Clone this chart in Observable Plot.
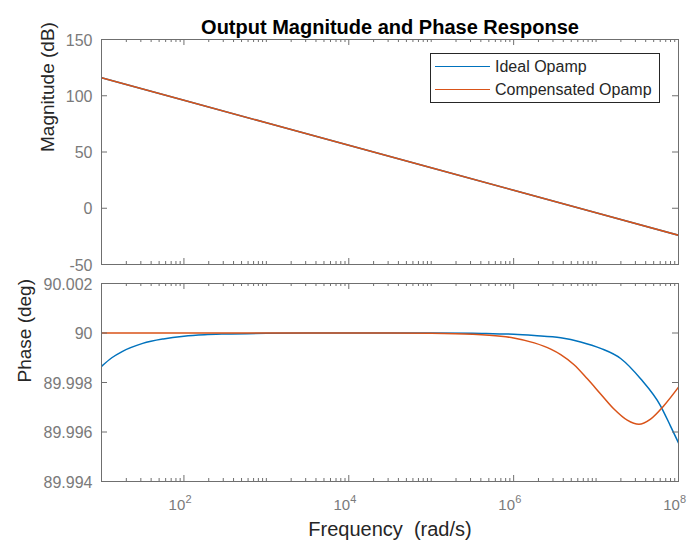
<!DOCTYPE html>
<html><head><meta charset="utf-8">
<script src="https://cdn.jsdelivr.net/npm/d3@7"></script>
<script src="https://cdn.jsdelivr.net/npm/@observablehq/plot@0.6"></script>
<style>
html,body{margin:0;padding:0;background:#fff;}
#wrap{position:relative;width:693px;height:548px;overflow:hidden;font-family:"Liberation Sans",Arial,sans-serif;}
#top,#bottom{position:absolute;left:0;}
#top{top:0}
#bottom{top:274px}
#legend{position:absolute;left:430px;top:53px;width:228px;height:48px;border:1px solid #262626;background:#fff;}
.sw{position:absolute;left:4px;width:55px;height:0;border-top:1.5px solid;}
.lab{position:absolute;left:64px;font-size:16px;color:#262626;line-height:16px;white-space:nowrap}
</style></head>
<body><div id="wrap"><div id="top"></div><div id="bottom"></div><div id="legend"></div></div>
<script>
// ---------- data ----------
const seriesNames = ["Ideal Opamp", "Compensated Opamp"];
const seriesColors = ["#0072BD", "#D95319"];

// Magnitude (dB) at each decade 10^1 .. 10^8
const magFreq = [1e1, 1e2, 1e3, 1e4, 1e5, 1e6, 1e7, 1e8];
const magIdeal = [116, 96, 76, 56, 36, 16, -4, -24];
const magComp = [116, 96, 76, 56, 36, 16, -4, -24];

// Phase (deg), frequency given as log10(rad/s)
const idealExp = [1.0, 1.125, 1.25, 1.5, 1.75, 2.0, 2.25, 2.5, 3.0, 3.5, 4.0, 5.0, 5.5, 5.75, 6.0, 6.25, 6.571, 6.813, 7.055, 7.298, 7.54, 7.782, 7.903, 8.0];
const idealPhase = [89.99865, 89.99900, 89.99925, 89.99958, 89.99976, 89.99987, 89.99993, 89.99996, 89.99999, 90.0, 90.0, 90.0, 89.99999, 89.99997, 89.99995, 89.9999, 89.99981, 89.99964, 89.99938, 89.99897, 89.99815, 89.99706, 89.99624, 89.99556];
const compExp = [1.0, 4.0, 4.5, 5.0, 5.5, 5.844, 6.0, 6.25, 6.45, 6.571, 6.733, 6.894, 7.055, 7.217, 7.378, 7.52, 7.661, 7.822, 8.0];
const compPhase = [90.0, 90.0, 90.0, 89.99999, 89.99995, 89.99987, 89.9998, 89.9996, 89.99935, 89.99913, 89.99872, 89.99815, 89.99754, 89.99693, 89.99648, 89.99631, 89.99652, 89.99706, 89.99781];

// ticks
const majorTicks = [1e2, 1e4, 1e6, 1e8];
const majorTickExponents = ["2", "4", "6", "8"];
const minorMantissas = [1, 2, 3, 4, 5, 6, 7, 8, 9];
const minorDecades = [1, 2, 3, 4, 5, 6, 7];
const magTicks = [-50, 0, 50, 100, 150];
const magTickLabels = ["-50", "0", "50", "100", "150"];
const phaseTicks = [89.994, 89.996, 89.998, 90, 90.002];
const phaseTickLabels = ["89.994", "89.996", "89.998", "90", "90.002"];

const titleText = "Output Magnitude and Phase Response";
const magLabel = "Magnitude (dB)";
const phaseLabel = "Phase (deg)";
const freqLabel = "Frequency\u00a0 (rad/s)";

// ---------- build ----------
const minorTicks = [];
for (const k of minorDecades) for (const m of minorMantissas) {
  const v = m * Math.pow(10, k);
  if (!majorTicks.includes(v)) minorTicks.push(v);
}

const magData = magFreq.map((f, i) => ({f, v: magIdeal[i]}));
const magDataC = magFreq.map((f, i) => ({f, v: magComp[i]}));
const phIdeal = idealExp.map((e, i) => ({f: Math.pow(10, e), v: idealPhase[i]}));
const phComp = compExp.map((e, i) => ({f: Math.pow(10, e), v: compPhase[i]}));

const W = 693, ML = 101, MR = 15;
const PW = W - ML - MR;
const font = '"Liberation Sans", Arial, sans-serif';
const axisColor = "#6f6f6f";
const labelColor = "#7a7a7a";
const textDark = "#262626";

function frameTicks(PH, yTicks) {
  return [
    Plot.ruleX(minorTicks, {x: d => d, stroke: axisColor, insetTop: PH - 3}),
    Plot.ruleX(minorTicks, {x: d => d, stroke: axisColor, insetBottom: PH - 3}),
    Plot.ruleX(majorTicks, {x: d => d, stroke: axisColor, insetTop: PH - 6}),
    Plot.ruleX(majorTicks, {x: d => d, stroke: axisColor, insetBottom: PH - 6}),
    Plot.ruleY(yTicks, {y: d => d, stroke: axisColor, insetRight: PW - 6}),
    Plot.ruleY(yTicks, {y: d => d, stroke: axisColor, insetLeft: PW - 6}),
    Plot.frame({stroke: axisColor})
  ];
}

// Top panel
const topH = 274, topMT = 39, topMB = 10;
const topPH = topH - topMT - topMB;
const topPlot = Plot.plot({
  width: W, height: topH,
  marginLeft: ML, marginRight: MR, marginTop: topMT, marginBottom: topMB,
  x: {type: "log", domain: [10, 1e8], axis: null},
  y: {domain: [-50, 150], axis: null},
  style: {fontFamily: font, background: "white", overflow: "visible"},
  marks: [
    Plot.line(magData, {x: "f", y: "v", stroke: seriesColors[0], strokeWidth: 1.5, clip: true}),
    Plot.line(magDataC, {x: "f", y: "v", stroke: seriesColors[1], strokeWidth: 1.5, clip: true}),
    ...frameTicks(topPH, magTicks),
    Plot.text(magTicks, {y: d => d, text: magTickLabels, frameAnchor: "left", textAnchor: "end", dx: -9, dy: 1, fontSize: 16, fill: labelColor}),
    Plot.text([magLabel], {text: d => d, frameAnchor: "left", rotate: -90, dx: -54, fontSize: 19, fill: textDark}),
    Plot.text([titleText], {text: d => d, frameAnchor: "top", dy: -20, fontSize: 20, fontWeight: "bold", fill: "#000"})
  ]
});
document.getElementById("top").appendChild(topPlot);

// Bottom panel
const botH = 274, botMT = 9, botMB = 67;
const botPH = botH - botMT - botMB;
const botPlot = Plot.plot({
  width: W, height: botH,
  marginLeft: ML, marginRight: MR, marginTop: botMT, marginBottom: botMB,
  x: {type: "log", domain: [10, 1e8], axis: null},
  y: {domain: [89.994, 90.002], axis: null},
  style: {fontFamily: font, background: "white", overflow: "visible"},
  marks: [
    Plot.line(phIdeal, {x: "f", y: "v", stroke: seriesColors[0], strokeWidth: 1.5, curve: "monotone-x", clip: true}),
    Plot.line(phComp, {x: "f", y: "v", stroke: seriesColors[1], strokeWidth: 1.5, curve: "monotone-x", clip: true}),
    ...frameTicks(botPH, phaseTicks),
    Plot.text(phaseTicks, {y: d => d, text: phaseTickLabels, frameAnchor: "left", textAnchor: "end", dx: -9, dy: 1, fontSize: 16, fill: labelColor}),
    Plot.text(majorTicks, {x: d => d, text: () => "10", frameAnchor: "bottom", dx: -7, dy: 28, fontSize: 15, fill: labelColor}),
    Plot.text(majorTicks, {x: d => d, text: majorTickExponents, frameAnchor: "bottom", textAnchor: "start", dx: 1.5, dy: 21, fontSize: 11, fill: labelColor}),
    Plot.text([phaseLabel], {text: d => d, frameAnchor: "left", rotate: -90, dx: -77, fontSize: 19, fill: textDark}),
    Plot.text([freqLabel], {text: d => d, frameAnchor: "bottom", dy: 54, fontSize: 20, fill: textDark})
  ]
});
document.getElementById("bottom").appendChild(botPlot);

// Legend
const legend = document.getElementById("legend");
seriesNames.forEach((name, i) => {
  const cy = [13, 36][i];
  const sw = document.createElement("div");
  sw.className = "sw";
  sw.style.top = (cy - 0.75) + "px";
  sw.style.borderTopColor = seriesColors[i];
  legend.appendChild(sw);
  const lab = document.createElement("div");
  lab.className = "lab";
  lab.style.top = (cy - 8) + "px";
  lab.textContent = name;
  legend.appendChild(lab);
});
</script></body></html>
